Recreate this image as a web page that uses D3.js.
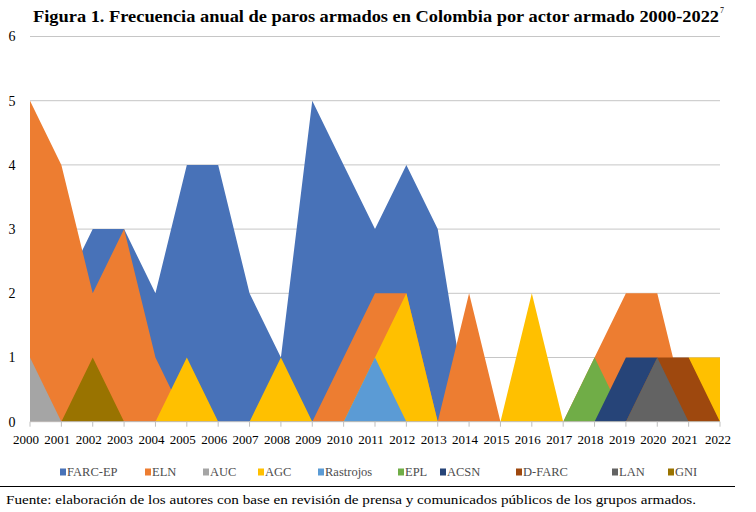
<!DOCTYPE html>
<html lang="es">
<head>
<meta charset="UTF-8">
<title>Paros armados en Colombia</title>
<script src="https://cdn.jsdelivr.net/npm/d3@7/dist/d3.min.js"></script>
<style>
  body { margin: 0; background: #fff; }
  text { font-family: "Liberation Serif", "DejaVu Serif", serif; }
</style>
</head>
<body>
<script>
// años y valores por actor armado
const years = d3.range(2000, 2023);
const farcEp    = [2,2,3,3,2,4,4,2,1,5,4,3,4,3,0,0,0,0,0,0,0,0,0];
const eln       = [5,4,2,3,1,0,0,0,0,0,1,2,2,0,2,0,0,0,1,2,2,0,0];
const auc       = [1,0,0,0,0,0,0,0,0,0,0,0,0,0,0,0,0,0,0,0,0,0,0];
const agc       = [0,0,0,0,0,1,0,0,1,0,0,1,2,0,0,0,2,0,0,0,0,1,1];
const rastrojos = [0,0,0,0,0,0,0,0,0,0,0,1,0,0,0,0,0,0,0,0,0,0,0];
const epl       = [0,0,0,0,0,0,0,0,0,0,0,0,0,0,0,0,0,0,1,0,0,0,0];
const acsn      = [0,0,0,0,0,0,0,0,0,0,0,0,0,0,0,0,0,0,0,1,1,0,0];
const dFarc     = [0,0,0,0,0,0,0,0,0,0,0,0,0,0,0,0,0,0,0,0,1,1,0];
const lan       = [0,0,0,0,0,0,0,0,0,0,0,0,0,0,0,0,0,0,0,0,1,0,0];
const gni       = [0,0,1,0,0,0,0,0,0,0,0,0,0,0,0,0,0,0,0,0,0,0,0];

const seriesNames = ['FARC-EP','ELN','AUC','AGC','Rastrojos','EPL','ACSN','D-FARC','LAN','GNI'];
const seriesValues = [farcEp, eln, auc, agc, rastrojos, epl, acsn, dFarc, lan, gni];
const colors = ['#4872B8','#ED7D31','#A5A5A5','#FFC000','#5B9BD5','#70AD47','#264478','#9E480E','#636363','#997300'];
const yTicks = [0,1,2,3,4,5,6];

const W = 756, H = 512;
const svg = d3.select('body').append('svg')
    .attr('width', W).attr('height', H);

const x = d3.scaleLinear().domain([2000, 2022]).range([30, 720]);
const y = d3.scaleLinear().domain([0, 6]).range([421.7, 36.5]);

// título
svg.append('text')
    .attr('x', 33).attr('y', 22)
    .attr('font-size', 16).attr('font-weight', 'bold')
    .attr('textLength', 686).attr('lengthAdjust', 'spacingAndGlyphs')
    .text('Figura 1. Frecuencia anual de paros armados en Colombia por actor armado 2000-2022');
svg.append('text')
    .attr('x', 720).attr('y', 13)
    .attr('font-size', 8)
    .text('7');

// rejilla
svg.append('g')
    .selectAll('line')
    .data(yTicks.filter(d => d > 0))
    .join('line')
    .attr('x1', x(2000)).attr('x2', x(2022))
    .attr('y1', d => y(d)).attr('y2', d => y(d))
    .attr('stroke', '#c6c6c6').attr('stroke-width', 1);

svg.append('g')
    .selectAll('text')
    .data(yTicks)
    .join('text')
    .attr('x', 12).attr('y', d => y(d))
    .attr('dy', '0.35em')
    .attr('text-anchor', 'middle')
    .attr('font-size', 14)
    .text(d => d);

// áreas superpuestas (no apiladas), en el orden de la leyenda
const area = d3.area()
    .x((d, i) => x(years[i]))
    .y0(y(0))
    .y1(d => y(d));

svg.append('g')
    .selectAll('path')
    .data(seriesValues)
    .join('path')
    .attr('d', d => area(d))
    .attr('fill', (d, i) => colors[i]);

// eje x
const xAxis = svg.append('g');
xAxis.append('line')
    .attr('x1', x(2000)).attr('x2', x(2022))
    .attr('y1', y(0)).attr('y2', y(0))
    .attr('stroke', '#bfbfbf');
xAxis.selectAll('line.tick')
    .data(years)
    .join('line')
    .attr('class', 'tick')
    .attr('x1', d => x(d)).attr('x2', d => x(d))
    .attr('y1', y(0)).attr('y2', y(0) + 5)
    .attr('stroke', '#bfbfbf');
xAxis.selectAll('text')
    .data(years)
    .join('text')
    .attr('x', d => x(d) - (d === 2022 ? 2 : 4))
    .attr('y', 444)
    .attr('text-anchor', 'middle')
    .attr('font-size', 13)
    .text(d => d);

// leyenda
const legendX = [60, 145, 203, 258, 318, 398, 440, 516, 612, 668];
const legend = svg.append('g')
    .selectAll('g')
    .data(seriesNames)
    .join('g')
    .attr('transform', (d, i) => `translate(${legendX[i]},472)`);
legend.append('rect')
    .attr('x', 0).attr('y', -3.5)
    .attr('width', 6).attr('height', 7)
    .attr('fill', (d, i) => colors[i]);
legend.append('text')
    .attr('x', 7).attr('dy', '0.35em')
    .attr('font-size', 12.5)
    .attr('fill', '#4d4d4d')
    .text(d => d);

// línea y fuente
svg.append('line')
    .attr('x1', 0).attr('x2', 735)
    .attr('y1', 486.5).attr('y2', 486.5)
    .attr('stroke', '#000').attr('stroke-width', 1.2);
svg.append('text')
    .attr('x', 6).attr('y', 504)
    .attr('font-size', 13.5)
    .attr('textLength', 690).attr('lengthAdjust', 'spacingAndGlyphs')
    .text('Fuente: elaboración de los autores con base en revisión de prensa y comunicados públicos de los grupos armados.');
</script>
</body>
</html>
